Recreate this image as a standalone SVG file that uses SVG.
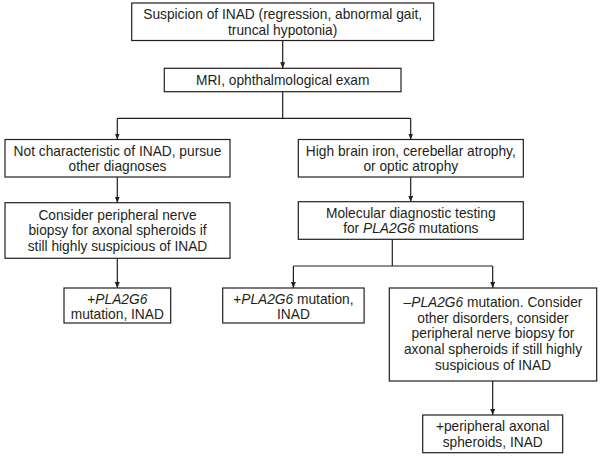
<svg xmlns="http://www.w3.org/2000/svg" width="600" height="457" viewBox="0 0 600 457">
<defs>
<style>
.box{fill:#fff;stroke:#231f20;stroke-width:1.2}
.t{font-family:"Liberation Sans",Arial,Helvetica,sans-serif;font-size:13.75px;fill:#231f20;text-anchor:middle}
.i{font-style:italic}
.c{fill:none;stroke:#231f20;stroke-width:1.2}
</style>
<marker id="ah" markerUnits="userSpaceOnUse" markerWidth="6" markerHeight="6" refX="6" refY="2.5" orient="auto">
<path d="M0,0 L6,2.5 L0,5 z" fill="#231f20"/>
</marker>
</defs>
<rect width="600" height="457" fill="#fff"/>
<g id="connectors">
<path class="c" d="M282.7,40.5 V68.3" marker-end="url(#ah)"/>
<path class="c" d="M282.7,91.7 V118.3 M117.3,118.3 H410.7"/>
<path class="c" d="M117.3,118.3 V139.5" marker-end="url(#ah)"/>
<path class="c" d="M410.7,118.3 V139.5" marker-end="url(#ah)"/>
<path class="c" d="M117.3,177 V202.7" marker-end="url(#ah)"/>
<path class="c" d="M410.7,177 V201.7" marker-end="url(#ah)"/>
<path class="c" d="M117.3,258.3 V288" marker-end="url(#ah)"/>
<path class="c" d="M392.3,239.3 V266 M293.4,266 H492.7"/>
<path class="c" d="M293.4,266 V288" marker-end="url(#ah)"/>
<path class="c" d="M492.7,266 V288" marker-end="url(#ah)"/>
<path class="c" d="M492.7,381 V415" marker-end="url(#ah)"/>
</g>
<g id="n1">
<rect class="box" x="131.7" y="3" width="302" height="37.5"/>
<text class="t" x="282.7" y="19.3">Suspicion of INAD (regression, abnormal gait,</text>
<text class="t" x="282.7" y="35">truncal hypotonia)</text>
</g>
<g id="n2">
<rect class="box" x="164.3" y="68.3" width="236.7" height="23.4"/>
<text class="t" x="282.7" y="84.8">MRI, ophthalmological exam</text>
</g>
<g id="n3">
<rect class="box" x="5" y="139.5" width="225" height="37.5"/>
<text class="t" x="117.5" y="155.8">Not characteristic of INAD, pursue</text>
<text class="t" x="117.5" y="171.3">other diagnoses</text>
</g>
<g id="n4">
<rect class="box" x="298.3" y="139.5" width="225" height="37.5"/>
<text class="t" x="410.8" y="155.8">High brain iron, cerebellar atrophy,</text>
<text class="t" x="410.8" y="171.3">or optic atrophy</text>
</g>
<g id="n5">
<rect class="box" x="5" y="202.7" width="225" height="55.6"/>
<text class="t" x="117.5" y="219.6">Consider peripheral nerve</text>
<text class="t" x="117.5" y="235.1">biopsy for axonal spheroids if</text>
<text class="t" x="117.5" y="250.6">still highly suspicious of INAD</text>
</g>
<g id="n6">
<rect class="box" x="298.3" y="201.7" width="225" height="37.6"/>
<text class="t" x="410.8" y="217.8">Molecular diagnostic testing</text>
<text class="t" x="410.8" y="233.3">for <tspan class="i">PLA2G6</tspan> mutations</text>
</g>
<g id="n7">
<rect class="box" x="64" y="288" width="106.7" height="35"/>
<text class="t" x="117.3" y="303.6">+<tspan class="i">PLA2G6</tspan></text>
<text class="t" x="117.3" y="318.8">mutation, INAD</text>
</g>
<g id="n8">
<rect class="box" x="222.7" y="288" width="141.4" height="35"/>
<text class="t" x="293.4" y="303.6">+<tspan class="i">PLA2G6</tspan> mutation,</text>
<text class="t" x="293.4" y="318.8">INAD</text>
</g>
<g id="n9">
<rect class="box" x="389.3" y="288" width="207.4" height="93"/>
<text class="t" x="493" y="306.9"><tspan class="i">–PLA2G6</tspan> mutation. Consider</text>
<text class="t" x="493" y="322.6">other disorders, consider</text>
<text class="t" x="493" y="338.3">peripheral nerve biopsy for</text>
<text class="t" x="493" y="354">axonal spheroids if still highly</text>
<text class="t" x="493" y="369.7">suspicious of INAD</text>
</g>
<g id="n10">
<rect class="box" x="422.7" y="415" width="140" height="37.7"/>
<text class="t" x="492.7" y="431">+peripheral axonal</text>
<text class="t" x="492.7" y="446.8">spheroids, INAD</text>
</g>
</svg>
